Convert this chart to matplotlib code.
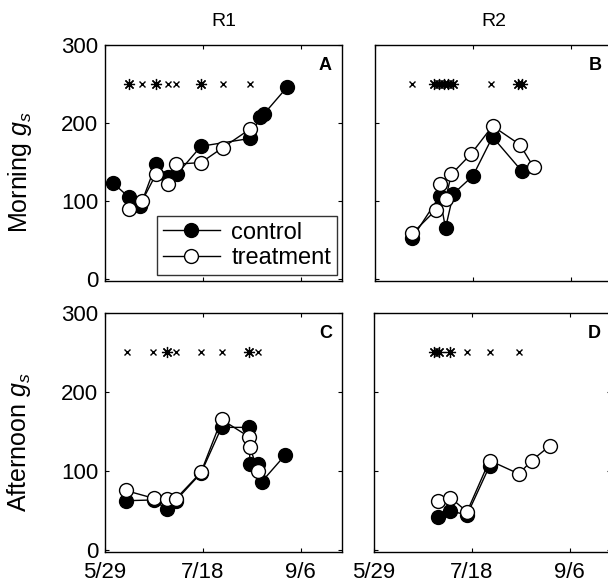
import matplotlib
matplotlib.use("Agg")
import matplotlib.pyplot as plt
from matplotlib.lines import Line2D

plt.rcParams['font.family'] = ['Liberation Sans', 'DejaVu Sans']
plt.rcParams['mathtext.fontset'] = 'custom'
plt.rcParams['mathtext.it'] = 'Liberation Sans:italic'
plt.rcParams['mathtext.rm'] = 'Liberation Sans'

# x = days after 5/29
tick_days = [0, 50, 100]
tick_labels = ['5/29', '7/18', '9/6']
yticks = [0, 100, 200, 300]

# Panel A (R1, morning)
A_ctrl_day = [4, 12, 18, 26, 32, 37, 49, 74, 79, 81, 93]
A_ctrl = [123, 105, 93, 147, 131, 135, 170, 180, 207, 211, 246]
A_trt_day = [12, 19, 26, 32, 36, 49, 60, 74]
A_trt = [89, 100, 134, 121, 147, 149, 168, 192]
A_star = [12, 26, 49]
A_cross = [19, 32, 36, 60, 74]

# Panel B (R2, morning)
B_ctrl_day = [19, 33, 36, 40, 50, 60, 75]
B_ctrl = [52, 106, 65, 109, 132, 182, 138]
B_trt_day = [19, 31, 33, 36, 39, 49, 60, 74, 81]
B_trt = [58, 88, 121, 102, 134, 160, 196, 172, 143]
B_star = [30, 32.5, 35, 37.5, 40, 73, 75]
B_cross = [19, 59]

# Panel C (R1, afternoon)
C_ctrl_day = [10.5, 25, 31.5, 36, 49, 59.5, 73.5, 74, 78, 80, 92]
C_ctrl = [62, 63, 51, 62, 97, 155, 155, 108, 109, 86, 120]
C_trt_day = [10.5, 25, 31.5, 36, 49, 59.5, 73.5, 74, 78]
C_trt = [75, 65, 64, 64, 98, 165, 143, 130, 100]
C_star = [31.5, 73.5]
C_cross = [11, 24.5, 36, 49, 59.5, 78]

# Panel D (R2, afternoon)
D_ctrl_day = [32.5, 39, 47.5, 59]
D_ctrl = [42, 49, 44, 106]
D_trt_day = [32.5, 39, 47.5, 59, 74, 80.5, 90]
D_trt = [62, 66, 48, 113, 96, 113, 132]
D_star = [30.5, 33, 39]
D_cross = [47.5, 59, 74]

SIG_Y = 250

W, H = 608, 586
fig = plt.figure(figsize=(W / 100, H / 100), dpi=100)

def rect(l, r, t, b):
    return [l / W, (H - b) / H, (r - l) / W, (b - t) / H]

axA = fig.add_axes(rect(105, 342, 45, 281))
axB = fig.add_axes(rect(375, 612, 45, 281))
axC = fig.add_axes(rect(105, 342, 313, 552))
axD = fig.add_axes(rect(374, 611, 313, 552))

panels = [
    (axA, A_ctrl_day, A_ctrl, A_trt_day, A_trt, A_star, A_cross, 'A'),
    (axB, B_ctrl_day, B_ctrl, B_trt_day, B_trt, B_star, B_cross, 'B'),
    (axC, C_ctrl_day, C_ctrl, C_trt_day, C_trt, C_star, C_cross, 'C'),
    (axD, D_ctrl_day, D_ctrl, D_trt_day, D_trt, D_star, D_cross, 'D'),
]

for ax, cd, cv, td, tv, st, cr, letter in panels:
    ax.plot(cd, cv, '-', color='black', lw=1.0, marker='o', ms=10,
            mfc='black', mec='black', mew=1.0, zorder=3)
    ax.plot(td, tv, '-', color='black', lw=1.0, marker='o', ms=10,
            mfc='white', mec='black', mew=1.0, zorder=4)
    ax.plot(st, [SIG_Y] * len(st), ls='none', marker=(8, 2, 0), ms=8,
            mec='black', mew=0.9, color='black')
    ax.plot(cr, [SIG_Y] * len(cr), ls='none', marker='x', ms=5,
            mec='black', mew=1.0, color='black')
    ax.set_xlim(0, 121)
    ax.set_ylim(-3, 300)
    ax.set_xticks(tick_days)
    ax.set_yticks(yticks)
    ax.tick_params(direction='in', length=3, width=0.8, top=True, right=True,
                   labelsize=16)
    ax.tick_params(axis='x', pad=7)
    ax.tick_params(axis='y', pad=5)
    for s in ax.spines.values():
        s.set_linewidth(1.0)
    ax.text(0.93, 0.915, letter, transform=ax.transAxes, ha='center',
            va='center', fontsize=13, fontweight='bold')

for ax in (axA, axB):
    ax.set_xticklabels([])
for ax in (axB, axD):
    ax.set_yticklabels([])
axC.set_xticklabels(tick_labels)
axD.set_xticklabels(tick_labels)

axA.set_title('R1', fontsize=14, pad=14)
axB.set_title('R2', fontsize=14, pad=14)
axA.set_ylabel('Morning $g_s$', fontsize=18)
axC.set_ylabel('Afternoon $g_s$', fontsize=18)
axA.yaxis.set_label_coords(-0.30, 0.46)
axC.yaxis.set_label_coords(-0.305, 0.46)

handles = [
    Line2D([], [], color='black', lw=1.0, marker='o', ms=10, mfc='black', mec='black'),
    Line2D([], [], color='black', lw=1.0, marker='o', ms=10, mfc='white', mec='black'),
]
leg = axA.legend(handles, ['control', 'treatment'], loc='lower right',
                 bbox_to_anchor=(0.98, 0.025), borderaxespad=0, fontsize=17,
                 frameon=True, fancybox=False, edgecolor='black',
                 handlelength=2.4, handletextpad=0.5, borderpad=0.25,
                 labelspacing=0.15)
leg.get_frame().set_linewidth(1.0)

fig.savefig('out.png', dpi=100)
